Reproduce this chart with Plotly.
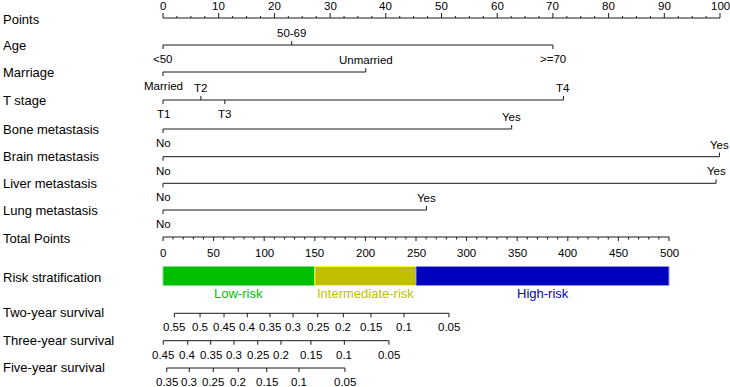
import numpy as np
import plotly.graph_objects as go

# ---------------- data ----------------
points_ticks = [0, 10, 20, 30, 40, 50, 60, 70, 80, 90, 100]
total_ticks = [0, 50, 100, 150, 200, 250, 300, 350, 400, 450, 500]

age_levels = ["<50", "50-69", ">=70"]
age_points = [0, 23.1, 70.0]
marriage_levels = ["Married", "Unmarried"]
marriage_points = [0, 36.4]
tstage_levels = ["T1", "T2", "T3", "T4"]
tstage_points = [0, 6.8, 11.1, 71.9]
bone_levels = ["No", "Yes"]
bone_points = [0, 62.6]
brain_levels = ["No", "Yes"]
brain_points = [0, 99.9]
liver_levels = ["No", "Yes"]
liver_points = [0, 99.3]
lung_levels = ["No", "Yes"]
lung_points = [0, 47.3]

risk_groups = ["Low-risk", "Intermediate-risk", "High-risk"]
risk_start = [0, 150, 250]
risk_end = [150, 250, 500]

two_year_labels = ["0.55", "0.5", "0.45", "0.4", "0.35", "0.3", "0.25", "0.2", "0.15", "0.1", "0.05"]
two_year_pos = [11.2, 36.6, 60.3, 83.3, 105.7, 128.5, 152.9, 178.2, 205.5, 238.1, 282.6]
three_year_labels = ["0.45", "0.4", "0.35", "0.3", "0.25", "0.2", "0.15", "0.1", "0.05"]
three_year_pos = [0.3, 24.4, 47.1, 70.2, 93.6, 116.6, 146.2, 179.2, 223.3]
five_year_labels = ["0.35", "0.3", "0.25", "0.2", "0.15", "0.1", "0.05"]
five_year_pos = [3.7, 26.0, 49.7, 74.4, 102.5, 134.4, 179.8]

# ---------------- layout constants ----------------
W, H = 730, 387
PLOT_L = 150
X0_PX, P100_PX, T500_PX = 163, 720, 669
k1 = (P100_PX - X0_PX) / 100.0
k2 = (T500_PX - X0_PX) / 500.0
FONT = "Liberation Sans, Arial, sans-serif"
LINE_COL = "#1a1a1a"
TXT = "#000000"
LEFT_SIZE = 13
LAB_SIZE = 11.5

rows = [
    ("Age", age_levels, age_points, ["below", "above", "below"], 45),
    ("Marriage", marriage_levels, marriage_points, ["below", "above"], 72),
    ("T stage", tstage_levels, tstage_points, ["below", "above", "below", "above"], 100),
    ("Bone metastasis", bone_levels, bone_points, ["below", "above"], 129),
    ("Brain metastasis", brain_levels, brain_points, ["below", "above"], 156.7),
    ("Liver metastasis", liver_levels, liver_points, ["below", "above"], 183.3),
    ("Lung metastasis", lung_levels, lung_points, ["below", "above"], 210),
]
Y_POINTS = 18
Y_TOTAL = 237
Y_RISK = 276
surv_rows = [
    ("Two-year survival", two_year_labels, two_year_pos, 313.3, 312.5),
    ("Three-year survival", three_year_labels, three_year_pos, 340.7, 340),
    ("Five-year survival", five_year_labels, five_year_pos, 368, 367.5),
]

fig = go.Figure()
ann = []

def add_lines(segs, xaxis="x"):
    xs, ys = [], []
    for (xa, ya, xb, yb) in segs:
        xs += [xa, xb, None]
        ys += [ya, yb, None]
    fig.add_trace(go.Scatter(x=xs, y=ys, mode="lines", xaxis=xaxis, yaxis="y",
                             line=dict(color=LINE_COL, width=1), hoverinfo="skip"))

def text(x, y, s, xref="x", size=LAB_SIZE, color=TXT, xanchor="center"):
    ann.append(dict(x=x, y=y, xref=xref, yref="y", text=s, showarrow=False,
                    xanchor=xanchor, yanchor="middle",
                    font=dict(family=FONT, size=size, color=color)))

def left_label(y, s, size=LEFT_SIZE):
    ann.append(dict(x=(0.5 - PLOT_L) / (W - PLOT_L), y=y, xref="paper", yref="y", text=s,
                    showarrow=False, xanchor="left", yanchor="middle",
                    font=dict(family=FONT, size=size, color=TXT)))

# Points axis
segs = [(points_ticks[0], Y_POINTS, points_ticks[-1], Y_POINTS)]
for t in points_ticks:
    segs.append((t, Y_POINTS, t, Y_POINTS - 5))
    text(t, 5.5, str(t))
for m in np.arange(0, 100.01, 2.5):
    if m not in points_ticks:
        segs.append((m, Y_POINTS, m, Y_POINTS - 2))
add_lines(segs)
left_label(19, "Points")

# Variable rows
for name, levels, pts, sides, y in rows:
    segs = [(min(pts), y, max(pts), y)]
    for lev, p, side in zip(levels, pts, sides):
        dy = -4 if side == "above" else 4
        segs.append((p, y, p, y + dy))
        text(p, y - 12 if side == "above" else y + 14, lev)
    add_lines(segs)
    left_label(y, name)

# Total points axis
segs = [(total_ticks[0], Y_TOTAL, total_ticks[-1], Y_TOTAL)]
for t in total_ticks:
    segs.append((t, Y_TOTAL, t, Y_TOTAL + 4))
    text(t, 252.5, str(t), xref="x2")
for m in np.arange(0, 500.1, 10):
    if m not in total_ticks:
        segs.append((m, Y_TOTAL, m, Y_TOTAL + 2.5))
add_lines(segs, "x2")
left_label(238, "Total Points")

# Risk stratification bar
risk_colors = ["#00BF00", "#BFBF00", "#0000BF"]
risk_edge = ["#7FDF7F", "#FFFF40", "#9090E8"]
for g, s0, s1, c, e in zip(risk_groups, risk_start, risk_end, risk_colors, risk_edge):
    fig.add_trace(go.Bar(x=[s1 - s0], base=[s0], y=[Y_RISK], orientation="h", width=19,
                         xaxis="x2", yaxis="y", marker=dict(color=c, line=dict(color=e, width=1)),
                         hoverinfo="skip"))
    text((s0 + s1) / 2, 293, g, xref="x2", size=13, color=c)
left_label(277, "Risk stratification")

# Survival axes
for name, labs, pos, y, ly in surv_rows:
    segs = [(min(pos), y, max(pos), y)]
    for l, p in zip(labs, pos):
        segs.append((p, y, p, y + 4))
        text(p, y + 14, l, xref="x2")
    add_lines(segs, "x2")
    left_label(ly, name)

fig.update_layout(
    width=W, height=H,
    margin=dict(l=PLOT_L, r=0, t=0, b=0),
    paper_bgcolor="white", plot_bgcolor="white",
    showlegend=False, hovermode=False, barmode="overlay",
    xaxis=dict(range=[(PLOT_L - X0_PX) / k1, (W - X0_PX) / k1], visible=False, fixedrange=True),
    xaxis2=dict(range=[(PLOT_L - X0_PX) / k2, (W - X0_PX) / k2], visible=False,
                overlaying="x", fixedrange=True),
    yaxis=dict(range=[H, 0], visible=False, fixedrange=True),
    annotations=ann,
)

fig.write_html("out.html", config={"displayModeBar": False},
               post_script="document.body.style.margin='0';document.body.style.overflow='hidden';")
